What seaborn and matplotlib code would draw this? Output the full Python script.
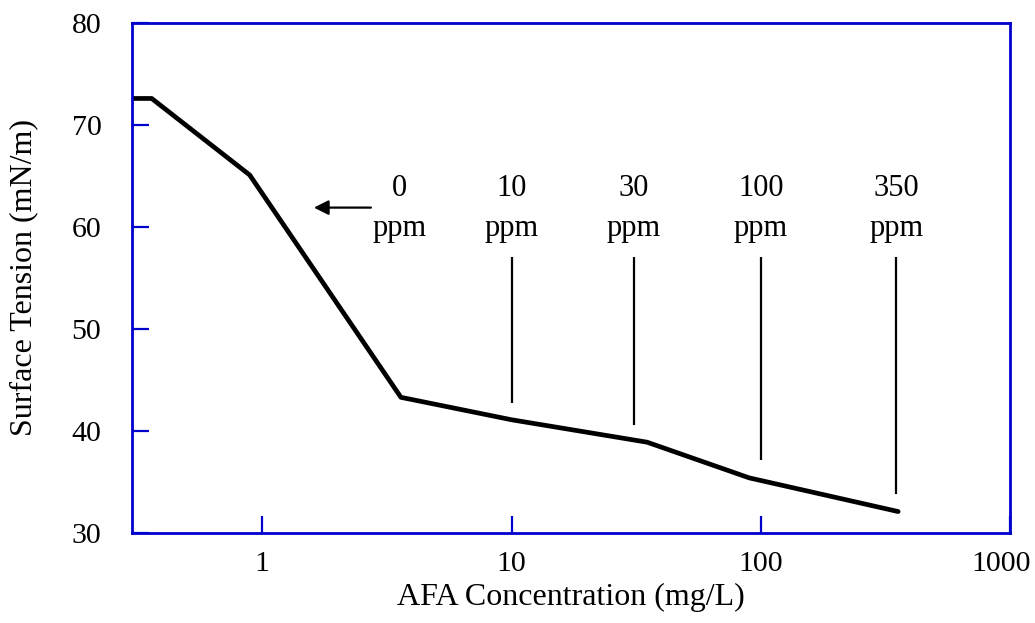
import matplotlib
matplotlib.use("Agg")
import matplotlib.pyplot as plt
import matplotlib.transforms as mtransforms
import seaborn as sns
import pandas as pd

# Data
conc = [0.3, 0.36, 0.89, 3.6, 10, 35, 90, 356]
tension = [72.6, 72.6, 65.1, 43.3, 41.1, 38.9, 35.4, 32.1]

marker_x = [10, 31, 100, 350]
marker_top = [57.1, 57.1, 57.1, 57.1]
marker_bottom = [42.7, 40.6, 37.2, 33.8]

label_x = [3.56, 10, 31, 100, 350]
label_nums = ["0", "10", "30", "100", "350"]

arrow_tail = (2.8, 61.9)
arrow_head = (1.57, 61.9)

x_ticks = [1, 10, 100, 1000]
x_ticklabels = ["1", "10", "100", "1000"]
y_ticks = [30, 40, 50, 60, 70, 80]
y_ticklabels = ["30", "40", "50", "60", "70", "80"]

sns.set_theme(style="white")
plt.rcParams['font.family'] = ['Liberation Serif', 'DejaVu Serif']
plt.rcParams['text.color'] = 'black'
plt.rcParams['axes.labelcolor'] = 'black'

blue = "#0000CC"
fig = plt.figure(figsize=(10.35, 6.23), dpi=100)
ax = fig.add_axes([0.1275, 0.1445, 0.8483, 0.8186])

df = pd.DataFrame({"conc": conc, "tension": tension})
sns.lineplot(data=df, x="conc", y="tension", ax=ax, color="black", linewidth=3.4,
             estimator=None, sort=False, solid_capstyle="round", solid_joinstyle="round")

ax.vlines(marker_x, marker_bottom, marker_top, color="black", linewidth=1.6)

for xv, num in zip(label_x, label_nums):
    ax.text(xv, 63.8, num, ha="center", va="center", fontsize=22, color="black")
    ax.text(xv, 59.9, "ppm", ha="center", va="center", fontsize=22, color="black")

ax.annotate("", xy=arrow_head, xytext=arrow_tail,
            arrowprops=dict(arrowstyle="-|>", color="black", lw=1.6, mutation_scale=22))

ax.set_xscale("log")
ax.set_xlim(0.3, 1000)
ax.set_ylim(30, 80)
ax.set_xticks(x_ticks)
ax.set_xticklabels(x_ticklabels)
ax.xaxis.set_minor_locator(matplotlib.ticker.NullLocator())
ax.set_yticks(y_ticks)
ax.set_yticklabels(y_ticklabels)

for s in ax.spines.values():
    s.set_color(blue)
    s.set_linewidth(2)
    s.set_visible(True)

ax.tick_params(axis="both", which="major", direction="in", length=12.5, width=1.6,
               color=blue, labelsize=21.5, labelcolor="black",
               bottom=True, left=True, top=False, right=False)
ax.tick_params(axis="x", pad=13)
ax.tick_params(axis="y", pad=22)

# keep the last x label inside the figure, as in the reference
last = ax.get_xticklabels()[-1]
last.set_transform(last.get_transform() + mtransforms.ScaledTranslation(-9 / 100, 0, fig.dpi_scale_trans))

ax.set_xlabel("AFA Concentration (mg/L)", fontsize=23, labelpad=4)
ax.set_ylabel("Surface Tension (mN/m)", fontsize=23, labelpad=24)
ax.grid(False)

fig.savefig("out.png", dpi=100)
